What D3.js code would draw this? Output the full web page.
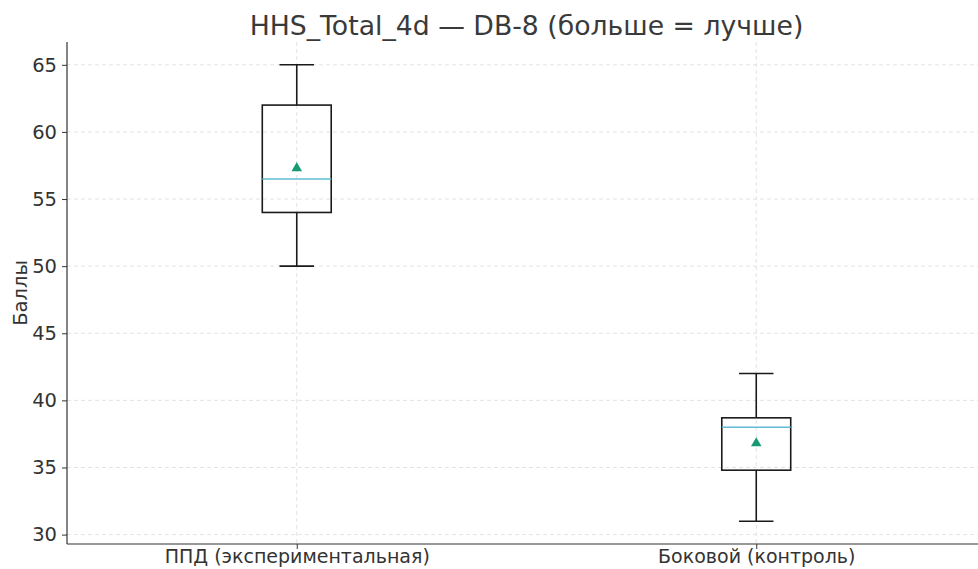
<!DOCTYPE html>
<html><head><meta charset="utf-8">
<script src="https://cdn.jsdelivr.net/npm/d3@7"></script>
<style>body{margin:0;background:#fff}svg{display:block}text{font-family:"DejaVu Sans",sans-serif}</style>
</head><body>
<svg id="c" width="978" height="569"></svg>
<script>
const categories = ["ППД (экспериментальная)", "Боковой (контроль)"];
const whiskerLow = [50, 31];
const q1 = [54, 34.8];
const median = [56.5, 38];
const q3 = [62, 38.7];
const whiskerHigh = [65, 42];
const means = [57.3, 36.8];
const yTicks = [30, 35, 40, 45, 50, 55, 60, 65];

const svg = d3.select("#c");
const L = 67, R = 986, T = 42, B = 544;
const x = d3.scaleLinear().domain([0.5, 2.5]).range([L, R]);
const y = d3.scaleLinear().domain([29.3, 66.7]).range([B, T]);
const g = svg.append("g");

// grid
g.selectAll(".gy").data(yTicks).enter().append("line")
  .attr("x1", L).attr("x2", R).attr("y1", d => y(d)).attr("y2", d => y(d))
  .attr("stroke", "#dcdcdc").attr("stroke-width", 0.8).attr("stroke-dasharray", "4,3");
g.selectAll(".gx").data(categories).enter().append("line")
  .attr("x1", (d, i) => x(i + 1)).attr("x2", (d, i) => x(i + 1)).attr("y1", T).attr("y2", B)
  .attr("stroke", "#dcdcdc").attr("stroke-width", 0.8).attr("stroke-dasharray", "4,3");

// boxes
const bw = 0.15, cw = 0.075;
categories.forEach((c, i) => {
  const cx = x(i + 1);
  const hw = x(1 + bw / 2) - x(1);
  const cap = x(1 + cw / 2) - x(1);
  const s = {stroke: "#1a1a1a", w: 1.6};
  g.append("line").attr("x1", cx).attr("x2", cx).attr("y1", y(whiskerHigh[i])).attr("y2", y(q3[i])).attr("stroke", s.stroke).attr("stroke-width", s.w);
  g.append("line").attr("x1", cx).attr("x2", cx).attr("y1", y(q1[i])).attr("y2", y(whiskerLow[i])).attr("stroke", s.stroke).attr("stroke-width", s.w);
  g.append("line").attr("x1", cx - cap).attr("x2", cx + cap).attr("y1", y(whiskerHigh[i])).attr("y2", y(whiskerHigh[i])).attr("stroke", s.stroke).attr("stroke-width", s.w);
  g.append("line").attr("x1", cx - cap).attr("x2", cx + cap).attr("y1", y(whiskerLow[i])).attr("y2", y(whiskerLow[i])).attr("stroke", s.stroke).attr("stroke-width", s.w);
  g.append("rect").attr("x", cx - hw).attr("width", 2 * hw).attr("y", y(q3[i])).attr("height", y(q1[i]) - y(q3[i]))
    .attr("fill", "none").attr("stroke", s.stroke).attr("stroke-width", s.w);
  g.append("line").attr("x1", cx - hw).attr("x2", cx + hw).attr("y1", y(median[i])).attr("y2", y(median[i]))
    .attr("stroke", "#5fbcd3").attr("stroke-width", 1.5);
  g.append("path").attr("d", d3.symbol().type(d3.symbolTriangle).size(48)())
    .attr("transform", `translate(${cx},${y(means[i])})`).attr("fill", "#159a73");
});

// axes
const ya = d3.axisLeft(y).tickValues(yTicks).tickSize(5).tickPadding(5);
const yg = svg.append("g").attr("transform", `translate(${L},0)`).call(ya);
yg.select(".domain").attr("d", `M0,${T}V${B}`).attr("stroke", "#333").attr("stroke-width", 1.2);
yg.selectAll(".tick line").attr("stroke", "#333");
yg.selectAll("text").attr("font-size", 19.5).attr("fill", "#333").attr("font-family", "DejaVu Sans");

const xa = d3.axisBottom(x).tickValues([1, 2]).tickFormat(d => categories[d - 1]).tickSize(5).tickPadding(1);
const xg = svg.append("g").attr("transform", `translate(0,${B})`).call(xa);
xg.select(".domain").attr("d", `M${L},0H${R}`).attr("stroke", "#333").attr("stroke-width", 1.2);
xg.selectAll(".tick line").attr("stroke", "#333");
xg.selectAll("text").attr("font-size", 19).attr("fill", "#333").attr("font-family", "DejaVu Sans");

svg.append("text").attr("x", (L + R) / 2).attr("y", 35).attr("text-anchor", "middle")
  .attr("font-size", 26.7).attr("fill", "#3a3a3a").text("HHS_Total_4d — DB-8 (больше = лучше)");
svg.append("text").attr("transform", `translate(27,${(T + B) / 2}) rotate(-90)`).attr("text-anchor", "middle")
  .attr("font-size", 19.5).attr("fill", "#333").text("Баллы");
</script>
</body></html>
